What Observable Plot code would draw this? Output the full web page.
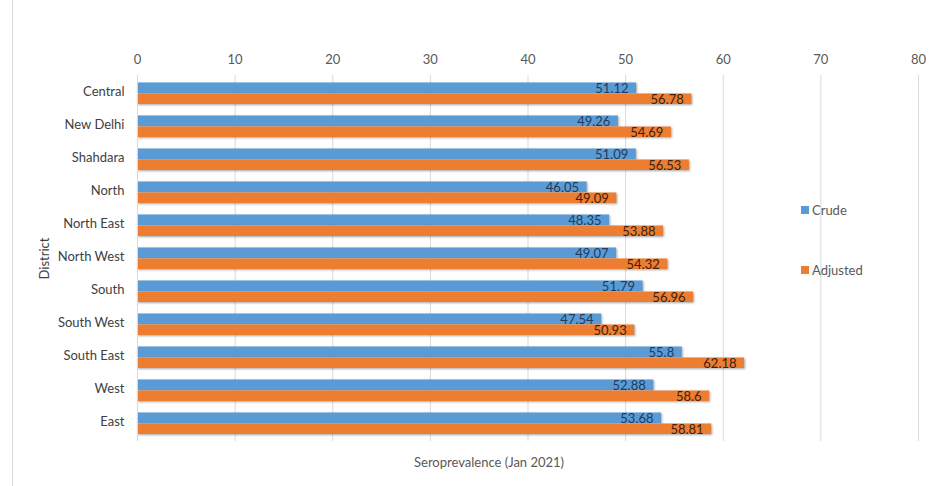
<!DOCTYPE html>
<html>
<head>
<meta charset="utf-8">
<script src="https://cdn.jsdelivr.net/npm/d3@7"></script>
<script src="https://cdn.jsdelivr.net/npm/@observablehq/plot@0.6"></script>
<style>
  body { margin: 0; background: #fff; }
  #wrap { position: relative; width: 934px; height: 486px; font-family: Lato, "Open Sans", sans-serif; }
  #frame { position: absolute; left: 12px; top: 0; width: 0; height: 486px; border-left: 1px solid #d9d9d9; }
  .bars rect { filter: drop-shadow(1px 1.5px 1px rgba(0,0,0,0.35)); }
  .legend { position: absolute; font-size: 13px; color: #595959; display: flex; align-items: center; }
  .legend span.sw { display: inline-block; width: 8px; height: 8px; margin-right: 3px; }
  #xtitle { position: absolute; left: 414px; top: 454px; font-size: 13px; color: #595959; }
</style>
</head>
<body>
<div id="wrap">
  <div id="frame"></div>
</div>
<script>
const districts = ["Central","New Delhi","Shahdara","North","North East","North West","South","South West","South East","West","East"];
const crude = [51.12,49.26,51.09,46.05,48.35,49.07,51.79,47.54,55.8,52.88,53.68];
const adjusted = [56.78,54.69,56.53,49.09,53.88,54.32,56.96,50.93,62.18,58.6,58.81];
const xTicks = [0,10,20,30,40,50,60,70,80];
const seriesNames = ["Crude","Adjusted"];
const colors = ["#5B9BD5","#ED7D31"];

const rowsCrude = districts.map((d,i) => ({district: d, value: crude[i]}));
const rowsAdj = districts.map((d,i) => ({district: d, value: adjusted[i]}));

const chart = Plot.plot({
  width: 934,
  height: 486,
  marginLeft: 137,
  marginRight: 16,
  marginTop: 75,
  marginBottom: 45,
  style: {fontFamily: "Lato, 'Open Sans', sans-serif", fontSize: "13px", color: "#595959", background: "transparent"},
  x: {domain: [0, 80], ticks: xTicks},
  y: {domain: districts, paddingInner: 0.33, paddingOuter: 0.165},
  marks: [
    Plot.gridX(xTicks, {stroke: "#d9d9d9", strokeOpacity: 1}),
    Plot.axisX(xTicks, {anchor: "top", tickSize: 0, tickPadding: 12, label: null, fill: "#595959"}),
    Plot.axisY({tickSize: 0, tickPadding: 13, dy: -2, label: "District", labelAnchor: "center", labelOffset: 98, labelArrow: "none", fill: "#404040"}),
    Plot.barX(rowsCrude, {y: "district", x: "value", fill: colors[0], insetBottom: 11, insetTop: 0.5, className: "bars"}),
    Plot.barX(rowsAdj, {y: "district", x: "value", fill: colors[1], insetTop: 11.5, className: "bars"}),
    Plot.text(rowsCrude, {y: "district", x: "value", text: d => String(d.value), textAnchor: "end", dx: -8, dy: -5, fill: "#1f3b5c", fontSize: 13}),
    Plot.text(rowsAdj, {y: "district", x: "value", text: d => String(d.value), textAnchor: "end", dx: -8, dy: 6, fill: "#3b2210", fontSize: 13}),
    Plot.ruleX([0], {stroke: "#d9d9d9"})
  ]
});
const wrap = document.getElementById("wrap");
chart.style.position = "absolute";
chart.style.left = "0";
chart.style.top = "0";
wrap.appendChild(chart);

const legendPos = [{left: 801, top: 202}, {left: 801, top: 262}];
seriesNames.forEach((name, i) => {
  const el = document.createElement("div");
  el.className = "legend";
  el.style.left = legendPos[i].left + "px";
  el.style.top = legendPos[i].top + "px";
  el.innerHTML = `<span class="sw" style="background:${colors[i]}"></span>${name}`;
  wrap.appendChild(el);
});
const xt = document.createElement("div");
xt.id = "xtitle";
xt.textContent = "Seroprevalence (Jan 2021)";
wrap.appendChild(xt);
</script>
</body>
</html>
